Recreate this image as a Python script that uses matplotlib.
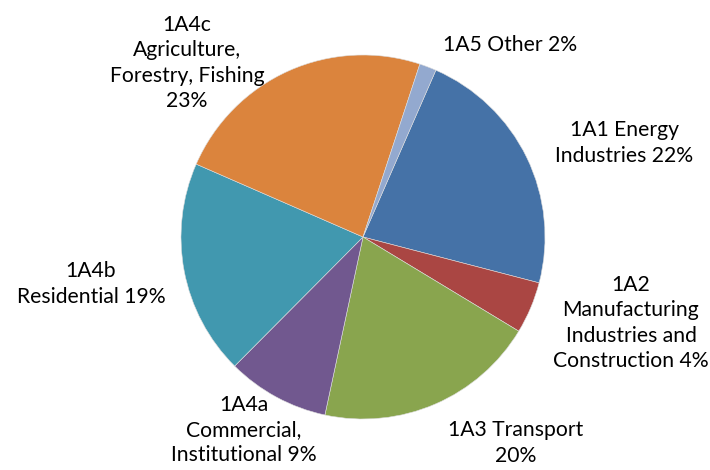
import matplotlib
matplotlib.use("Agg")
import matplotlib.pyplot as plt

# emission shares by sector (percent)
sectors = ["1A1 Energy\nIndustries 22%",
           "1A2\nManufacturing\nIndustries and\nConstruction 4%",
           "1A3 Transport\n20%",
           "1A4a\nCommercial,\nInstitutional 9%",
           "1A4b\nResidential 19%",
           "1A4c\nAgriculture,\nForestry, Fishing\n23%",
           "1A5 Other 2%"]
shares = [22.5, 4.6, 19.7, 9.1, 19.1, 23.5, 1.5]
colors = ["#4572A7", "#AA4643", "#89A54E", "#71588F", "#4198AF", "#DB843D", "#93A9CF"]

# label centres in pixel space (figure is 710x470)
label_xy = [(624, 327), (631, 147), (516, 27), (244, 40), (91, 186), (187, 407), (510, 425)]

fig = plt.figure(figsize=(7.1, 4.7), dpi=100)
ax = fig.add_axes([0, 0, 1, 1])

ax.pie(shares, colors=colors, radius=182, center=(363, 233),
       startangle=66.4, counterclock=False,
       wedgeprops=dict(linewidth=0.4, edgecolor="#dddddd"))

for txt, (x, y) in zip(sectors, label_xy):
    ax.text(x, y, txt, ha="center", va="center", fontsize=15.2,
            family=["Lato", "DejaVu Sans"], linespacing=1.34, color="black")

ax.set_xlim(0, 710)
ax.set_ylim(0, 470)
ax.set_aspect("equal")
ax.axis("off")

fig.savefig("out.png", dpi=100)
